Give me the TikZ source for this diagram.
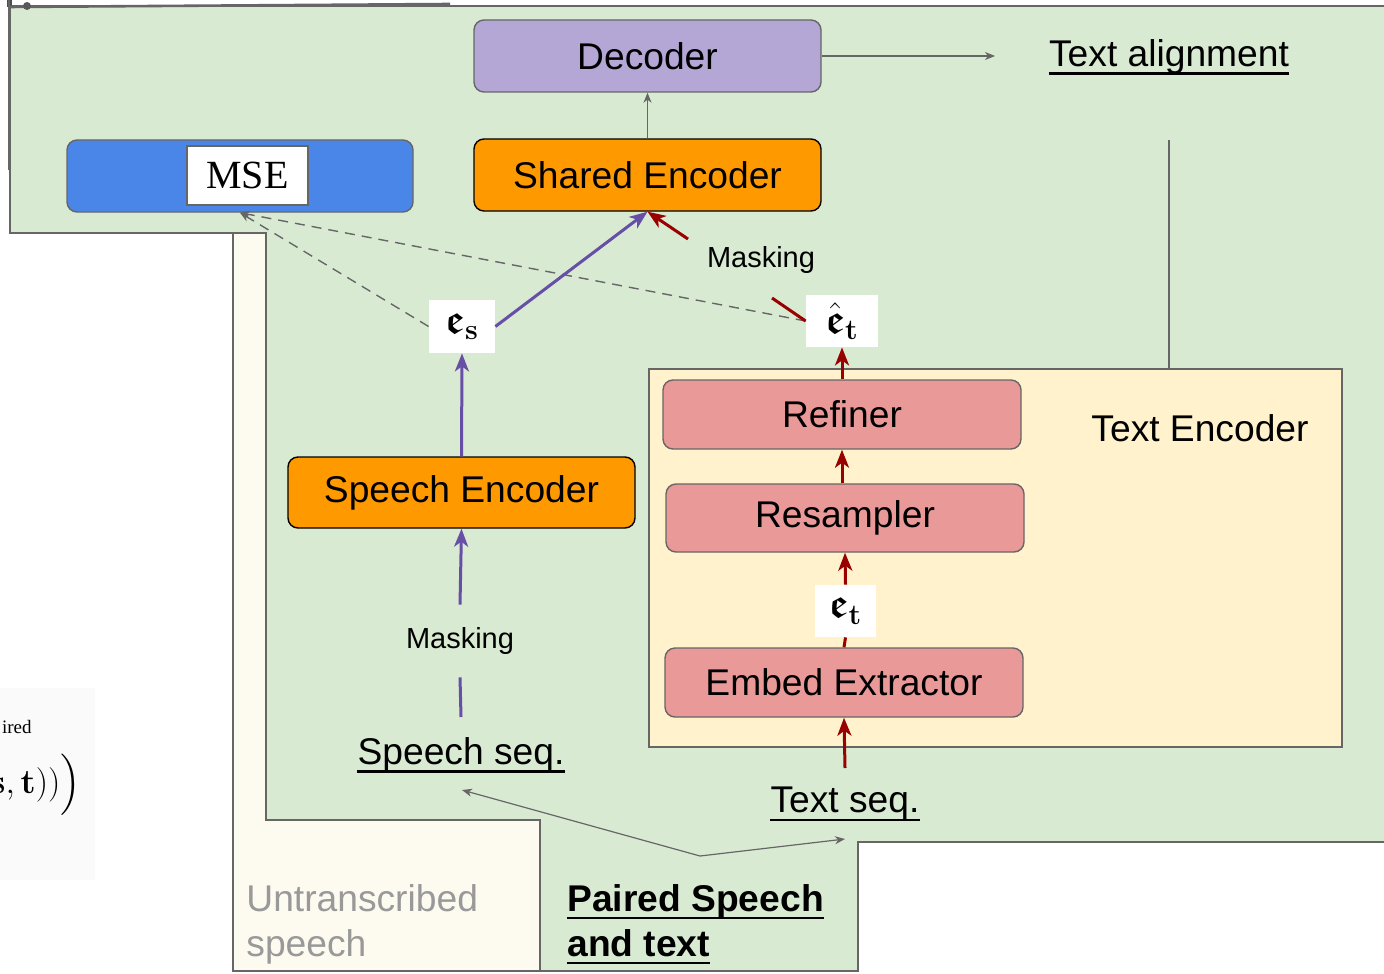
\documentclass[tikz,border=0pt]{standalone}
\usepackage[no-math]{fontspec}
\setmainfont{Liberation Sans}
\newfontfamily\serifont{Liberation Serif}
\usepackage{amsmath,amssymb}
\usetikzlibrary{arrows.meta,calc}
\definecolor{gbg}{HTML}{D9EAD3}
\definecolor{cream}{HTML}{FFF2CC}
\definecolor{pale}{HTML}{FDFAF0}
\definecolor{lav}{HTML}{B4A7D6}
\definecolor{orng}{HTML}{FF9900}
\definecolor{blu}{HTML}{4A86E8}
\definecolor{pnk}{HTML}{EA9999}
\definecolor{dred}{HTML}{990000}
\definecolor{purp}{HTML}{674EA7}
\definecolor{lgray}{HTML}{666666}
\definecolor{txtgray}{HTML}{999999}
\tikzset{
  mainfont/.style={font=\fontsize{18.6}{22}\selectfont},
  blk/.style={draw=lgray, line width=0.7pt, rounded corners=5pt, mainfont, text=black},
  obox/.style={blk, draw=black, fill=orng, minimum width=173.5pt, minimum height=36pt},
  pbox/.style={blk, fill=pnk, minimum width=179pt, minimum height=34.5pt},
  lbl/.style={inner sep=0pt, mainfont},
  mathbox/.style={fill=white, inner sep=0pt, font=\fontsize{21}{24}\selectfont},
  thinarr/.style={draw=lgray, line width=0.6pt, -{Stealth[length=5pt,width=4pt,inset=1.5pt]}},
  purarr/.style={draw=purp, line width=1.5pt, -{Stealth[length=9pt,width=7pt,inset=2.5pt]}},
  purln/.style={draw=purp, line width=1.5pt},
  redarr/.style={draw=dred, line width=1.5pt, -{Stealth[length=9pt,width=7pt,inset=2.5pt]}},
  redln/.style={draw=dred, line width=1.5pt},
  dashln/.style={draw=lgray, line width=0.7pt, dash pattern=on 5pt off 3.5pt, -{Stealth[length=5pt,width=4pt,inset=1.5pt]}},
  frame/.style={draw=lgray, line width=0.7pt},
}
\begin{document}
\begin{tikzpicture}[x=0.5pt,y=-0.5pt]
\useasboundingbox (0,0) rectangle (1384,973);
\clip (0,0) rectangle (1384,973);
\fill[white] (0,0) rectangle (1384,973);
% left artifact
\begin{scope}
\clip (0,688) rectangle (95,880);
\fill[black!2] (0,688) rectangle (95,880);
\node[anchor=base east, inner sep=0pt, font=\serifont\fontsize{9.5}{11}\selectfont] (ired) at (32,733) {ired};
\node[anchor=east, inner sep=0pt, font=\fontsize{17}{19}\selectfont] (frm) at (81,785) {$\mathbf{s},\mathbf{t}))\Big)$};
\end{scope}
% regions
\fill[pale, frame] (233,233) rectangle (540,971);
\draw[frame, fill=gbg] (10,6) -- (1400,6) -- (1400,842) -- (858,842) -- (858,971) -- (540,971) -- (540,820) -- (266,820) -- (266,233) -- (10,233) -- cycle;
\fill[black!70] (7,0) rectangle (12,7);
\draw[black!60, line width=1.2pt] (9,0) -- (9,170);
\draw[black!60, line width=1.3pt] (8,7) -- (450,4);
\fill[black!65] (27,6) circle (4);
% text encoder region
\node[draw=lgray, line width=0.7pt, fill=cream, minimum width=346.5pt, minimum height=189pt, inner sep=0pt] (te) at (995.5,558) {};
\node[lbl] (telbl) at (1200,428) {Text Encoder};
% boxes
\node[blk, fill=lav, minimum width=173.5pt, minimum height=36pt] (dec) at (647.5,56) {Decoder};
\node[obox] (shenc) at (647.5,175) {Shared Encoder};
\node[blk, fill=blu, minimum width=173pt, minimum height=36pt] (mse) at (240,176) {};
\node[draw=lgray, line width=0.7pt, fill=white, minimum width=60.5pt, minimum height=29.5pt, inner sep=0pt, font=\serifont\fontsize{20}{24}\selectfont] (msein) at (247.5,175.5) {MSE};
\node[obox, minimum height=35.5pt] (spenc) at (461.5,492.5) {Speech Encoder};
\node[pbox] (ref) at (842,414.5) {Refiner};
\node[pbox, minimum height=34pt] (res) at (845,518) {Resampler};
\node[pbox] (emb) at (844,682.5) {Embed Extractor};
\node[mathbox, minimum width=33pt, minimum height=26.5pt] (es) at (462,326.5) {$\boldsymbol{\mathfrak{e}}_{\mathbf{s}}$};
\node[mathbox, minimum width=36pt, minimum height=26pt] (eth) at (842,321) {$\hat{\boldsymbol{\mathfrak{e}}}_{\mathbf{t}}$};
\node[mathbox, minimum width=30.5pt, minimum height=26pt] (et) at (845.5,611) {$\boldsymbol{\mathfrak{e}}_{\mathbf{t}}$};
% labels
\node[lbl] (ta) at (1169,57) {Text alignment};
\draw[line width=1.4pt] ([yshift=-3.5pt]ta.base west) -- ([yshift=-3.5pt]ta.base east);
\node[lbl] (ss) at (461,755) {Speech seq.};
\draw[line width=1.4pt] ([yshift=-3.5pt]ss.base west) -- ([yshift=-3.5pt]ss.base east);
\node[lbl] (ts) at (845,804) {Text seq.};
\draw[line width=1.4pt] ([yshift=-3.5pt]ts.base west) -- ([yshift=-3.5pt]ts.base east);
\node[inner sep=0pt, font=\fontsize{14.5}{17}\selectfont] (maskT) at (761,260) {Masking};
\node[inner sep=0pt, minimum height=36pt, font=\fontsize{14.5}{17}\selectfont] (maskL) at (460,641) {Masking};
\node[lbl, anchor=base west, text=txtgray] (un1) at (246,911) {Untranscribed};
\node[lbl, anchor=base west, text=txtgray] (un2) at (246,956) {speech};
\node[lbl, anchor=base west, font=\bfseries\fontsize{18.6}{22}\selectfont] (pa1) at (567,911) {Paired Speech};
\draw[line width=1.4pt] ([yshift=-3.5pt]pa1.base west) -- ([yshift=-3.5pt]pa1.base east);
\node[lbl, anchor=base west, font=\bfseries\fontsize{18.6}{22}\selectfont] (pa2) at (567,956) {and text};
\draw[line width=1.4pt] ([yshift=-3.5pt]pa2.base west) -- ([yshift=-3.5pt]pa2.base east);
% coordinates
\coordinate (taend) at (995,56);
\coordinate (vtop) at (1169,140);
\coordinate (ssTop) at (461,717);
\coordinate (tsTop) at (845,768);
\coordinate (mA) at (772,298);
\coordinate (mB) at (688,239);
\coordinate (V) at (700,856);
\coordinate (ssBot) at (462,790);
\coordinate (tsBot) at (845,839);
% connectors
\draw[thinarr] (shenc.north) -- (dec.south);
\draw[thinarr] (dec.east) -- (taend);
\draw[frame] (vtop) -- (vtop |- te.north);
\draw[dashln] (es.west) -- (mse.south);
\draw[dashln] (eth.west) -- (mse.south);
\draw[purarr] (es.east) -- (shenc.south);
\draw[purarr] (spenc.north) -- (es.south);
\draw[purln] (ssTop) -- (maskL.south);
\draw[purarr] (maskL.north) -- (spenc.south);
\draw[redln] (eth.west) -- (mA);
\draw[redarr] (mB) -- (shenc.south);
\draw[redarr] (ref.north) -- (eth.south);
\draw[redarr] (ref.south |- res.north) -- (ref.south);
\draw[redarr] (et.north) -- (res.south);
\draw[redln] (emb.north) -- (et.south);
\draw[redarr] (tsTop) -- (emb.south);
\draw[thinarr] (V) -- (ssBot);
\draw[thinarr] (V) -- (tsBot);
\end{tikzpicture}
\end{document}
